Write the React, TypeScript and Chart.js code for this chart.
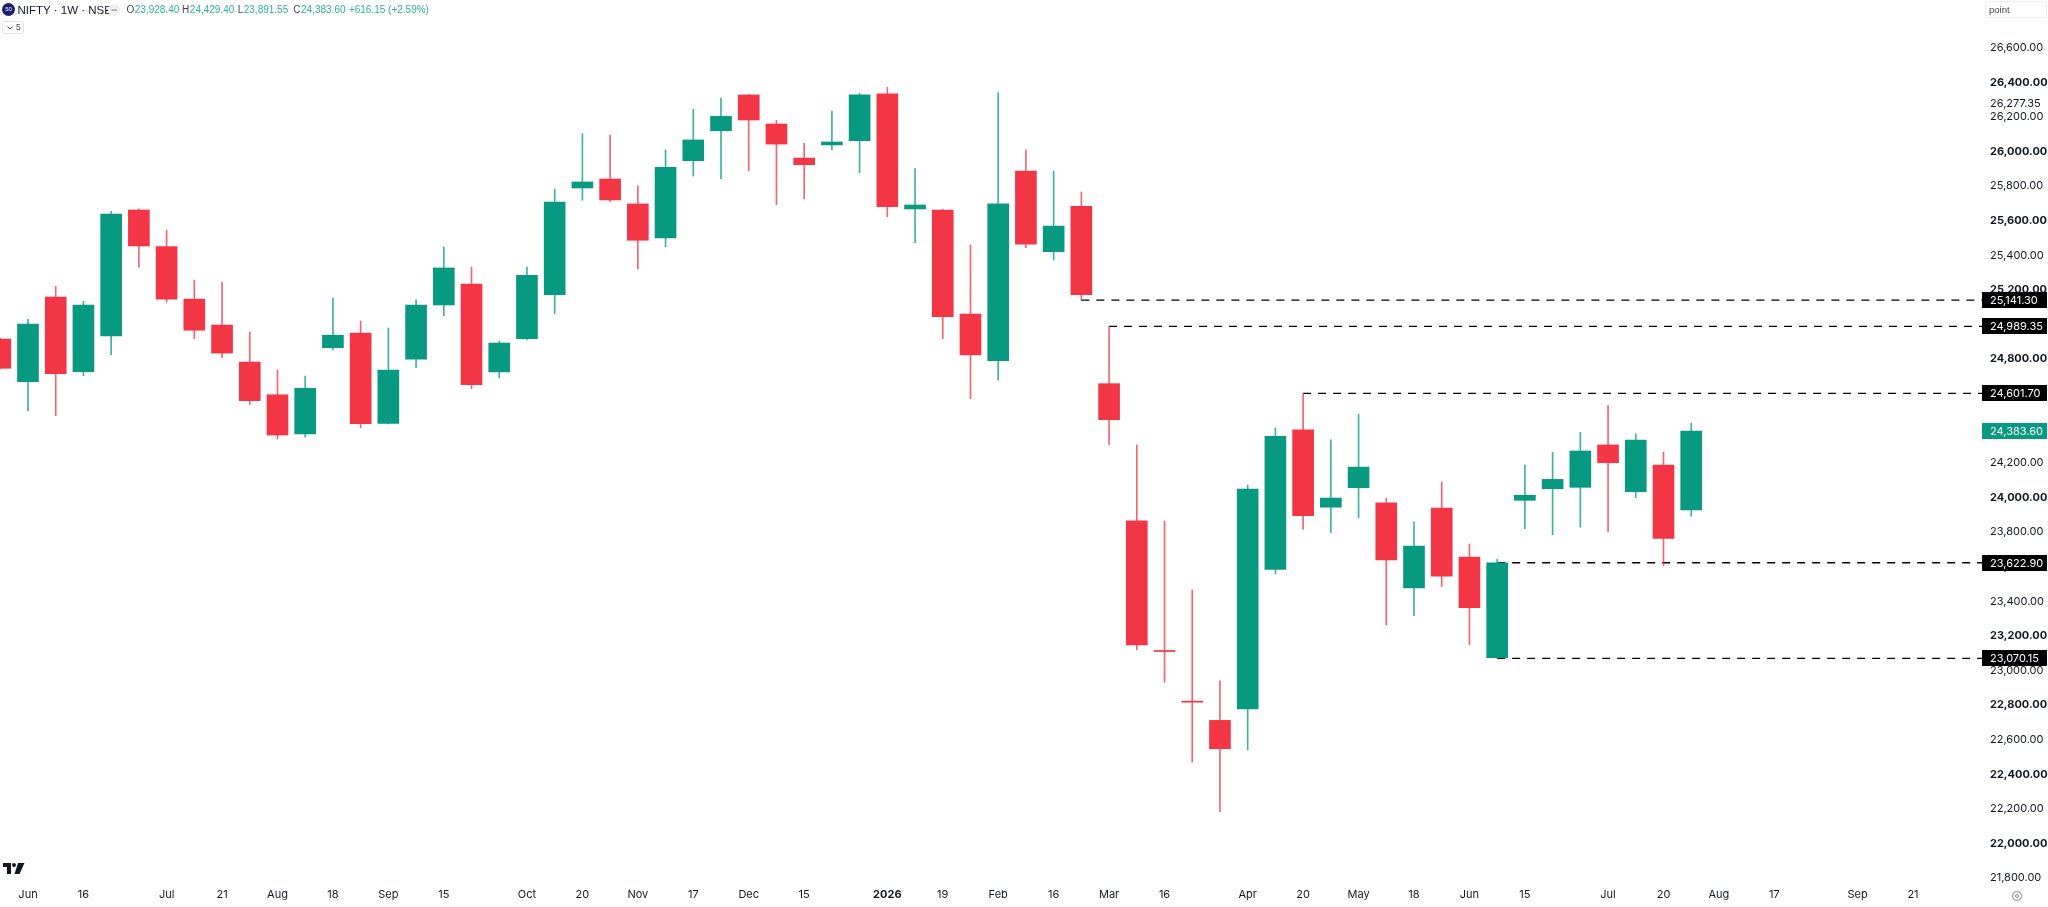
import React, { useEffect, useRef } from "react";
import { Chart, registerables } from "chart.js";

Chart.register(...registerables);

const opens = [24916,24670,25159,24727,24934,25662,25450,25147,24997,24783,24594,24367,24866,24951,24429,24799,25113,25234,24726,24918,25172,25789,25841,25697,25500,25947,26120,26327,26159,25962,26038,26062,26334,25668,25662,25061,24791,25887,25421,25683,24658,23866,23116,22823,22712,22778,23585,24392,23944,24057,23970,23477,23939,23656,23075,23984,24051,24059,24304,24034,24188,23928.4];
const highs = [24922,25030,25221,25134,25654,25669,25546,25257,25244,24957,24737,24702,25153,25020,24980,25142,25448,25332,24905,25332,25783,26103,26095,25801,26009,26244,26309,26330,26180,26047,26234,26336,26371,25902,25665,25460,26340,26009,25887,25766,24989.35,24304,23864,23466,22940,24072,24402,24601.7,24333,24481,23996,23859,24090,23731,23643,24188,24261,24377,24531,24367,24263,24429.4];
const lows = [24743,24502,24473,24704,24826,25332,25130,24918,24808,24537,24338,24350,24853,24404,24425,24750,25051,24629,24691,24911,25063,25718,25710,25321,25450,25858,25843,25889,25693,25727,26009,25878,25623,25473,24918,24571,24679,25444,25373,25141.3,24305,23120,22932,22471,22184,22541,23558,23816,23797,23883,23263,23317,23485,23149,23070.15,23820,23785,23828,23802,23999,23606,23891.55];
const closes = [24747,25002,24716,25113,25639,25454,25146,24967,24835,24560,24361,24631,24938,24427,24737,25113,25327,24652,24893,25284,25708,25824,25720,25487,25909,26067,26203,26182,26043,25924,26055,26327,25681,25691,25045,24824,25698,25465,25569,25172,24450,23148,23110,22817,22548,24049,24354,23895,23997,24176,23639,23720,23545,23363,23622.9,24013,24105,24269,24201,24332,23764,24383.6];

const timeTickIndex = [1,3,6,8,10,12,14,16,19,21,23,25,27,29,32,34,36,38,40,42,45,47,49,51,53,55,58,60,62,64,67,69];
const timeTickLabels = ["Jun","16","Jul","21","Aug","18","Sep","15","Oct","20","Nov","17","Dec","15","2026","19","Feb","16","Mar","16","Apr","20","May","18","Jun","15","Jul","20","Aug","17","Sep","21"];
const boldTimeLabels = ["2026"];

const priceTicks = [26600,26400,26277.35,26200,26000,25800,25600,25400,25200,25000,24800,24600,24400,24200,24000,23800,23600,23400,23200,23000,22800,22600,22400,22200,22000,21800];

const levelValues = [25141.3,24989.35,24601.7,23622.9,23070.15];
const levelStartIndex = [39,40,47,54,54];
const lastPrice = 24383.6;

const headerLabels = ["O","H","L","C"];
const headerValues = ["23,928.40","24,429.40","23,891.55","24,383.60"];
const headerChange = "+616.15 (+2.59%)";

const GREEN = "#089981";
const RED = "#F23645";
const GREEN_WICK = "#089981c4";
const RED_WICK = "#F23645c4";
const FONT = "Inter, 'Liberation Sans', sans-serif";
const HEADER_FONT = "'Liberation Sans', Arial, sans-serif";
const X_MIN = -0.01;
const X_MAX = 71.49;

const fmt = (v: number) =>
  v.toLocaleString("en-US", { minimumFractionDigits: 2, maximumFractionDigits: 2 });

const priceBoxes = {
  id: "priceBoxes",
  afterDraw(chart: any) {
    const { ctx, scales } = chart;
    const y = scales.y;
    const left = chart.chartArea.right;
    const draw = (v: number, bg: string) => {
      const py = y.getPixelForValue(v);
      ctx.save();
      ctx.fillStyle = bg;
      ctx.fillRect(left, Math.round(py) - 8, 65, 16);
      ctx.fillStyle = "#ffffff";
      ctx.font = `11px ${FONT}`;
      ctx.textAlign = "left";
      ctx.textBaseline = "middle";
      ctx.fillText(fmt(v), left + 8, Math.round(py) + 0.5);
      ctx.restore();
    };
    levelValues.forEach((v) => draw(v, "#000000"));
    draw(lastPrice, GREEN);
  },
};

export default function App() {
  const ref = useRef<HTMLCanvasElement | null>(null);
  useEffect(() => {
    document.body.style.margin = "0";
    document.body.style.background = "#ffffff";
    const candleColors = closes.map((c, i) => (c >= opens[i] ? GREEN : RED));
    const wickColors = closes.map((c, i) => (c >= opens[i] ? GREEN_WICK : RED_WICK));
    const chart = new Chart(ref.current as HTMLCanvasElement, {
      type: "bar",
      data: {
        datasets: [
          ...levelValues.map((v, k) => ({
            type: "line" as const,
            data: [
              { x: levelStartIndex[k], y: v },
              { x: X_MAX, y: v },
            ],
            borderColor: "#000000",
            borderWidth: 1.3,
            borderDash: [8, 7],
            pointRadius: 0,
            order: 3,
          })),
          {
            data: closes.map((_, i) => ({ x: i, y: [lows[i], highs[i]] })),
            backgroundColor: wickColors,
            barThickness: 1,
            grouped: false,
            order: 2,
          },
          {
            data: closes.map((c, i) => ({ x: i, y: [opens[i], c] })),
            backgroundColor: candleColors,
            barThickness: 21,
            grouped: false,
            order: 1,
          },
        ] as any,
      },
      plugins: [priceBoxes],
      options: {
        responsive: false,
        animation: false,
        maintainAspectRatio: false,
        layout: { padding: 0, autoPadding: false },
        plugins: { legend: { display: false }, title: { display: false }, tooltip: { enabled: false } },
        scales: {
          x: {
            type: "linear",
            offset: false,
            bounds: "data",
            min: X_MIN,
            max: X_MAX,
            grid: { display: false, offset: false },
            border: { display: false },
            afterBuildTicks(scale: any) {
              scale.ticks = timeTickIndex.map((value) => ({ value }));
            },
            afterFit(scale: any) {
              scale.height = 27;
            },
            ticks: {
              autoSkip: false,
              maxRotation: 0,
              minRotation: 0,
              padding: 0,
              color: "#131722",
              font: (c: any) => {
                const l = timeTickLabels[timeTickIndex.indexOf(c.tick?.value)];
                return { family: FONT, size: 11, weight: boldTimeLabels.includes(l) ? "bold" : "normal" };
              },
              callback: (v: any) => timeTickLabels[timeTickIndex.indexOf(v)] ?? "",
            },
          },
          y: {
            type: "linear",
            position: "right",
            offset: false,
            bounds: "data",
            min: 21789.3,
            max: 26875.7,
            grid: { display: false },
            border: { display: false },
            afterBuildTicks(scale: any) {
              scale.ticks = priceTicks.map((value) => ({ value }));
            },
            afterFit(scale: any) {
              scale.width = 66;
              scale.paddingTop = 0;
              scale.paddingBottom = 0;
            },
            ticks: {
              autoSkip: false,
              crossAlign: "near",
              padding: 0,
              color: "#131722",
              font: (c: any) => ({
                family: FONT,
                size: 11,
                weight: c.tick && c.tick.value % 400 === 0 ? "bold" : "normal",
              }),
              callback: (v: any) => fmt(Number(v)),
            },
          },
        },
      } as any,
    });
    return () => chart.destroy();
  }, []);

  const overlay: React.CSSProperties = { position: "absolute", fontFamily: HEADER_FONT, whiteSpace: "nowrap" };
  return (
    <div style={{ position: "relative", width: 2048, height: 907, overflow: "hidden", background: "#fff" }}>
      <canvas ref={ref} width={2048} height={907} style={{ display: "block" }} />
      <div style={{ ...overlay, left: 2, top: 3, width: 13, height: 13, borderRadius: 7, background: "#1c1c6e", color: "#fff", fontSize: 6, lineHeight: "13px", textAlign: "center" }}>50</div>
      <div style={{ ...overlay, left: 17.5, top: 2, fontSize: 11.5, lineHeight: "16px", color: "#131722" }}>NIFTY · 1W · NSE</div>
      <div style={{ ...overlay, left: 108, top: 4, width: 12, height: 12, borderRadius: 6, background: "#f0f0f0" }}>
        <div style={{ position: "absolute", left: 3, top: 5, width: 6, height: 2, background: "#b2b5be", borderRadius: 1 }} />
      </div>
      <div style={{ ...overlay, left: 126.5, top: 3, fontSize: 10, lineHeight: "14px", letterSpacing: 0, color: "#2bb39c" }}>
        {headerLabels.map((l, i) => (
          <span key={l} style={{ display: "inline-block", width: 55.6 }}>
            <span style={{ color: "#434651", marginRight: 0.5 }}>{l}</span>
            {headerValues[i]}
          </span>
        ))}
        <span>{headerChange}</span>
      </div>
      <div style={{ ...overlay, left: 2, top: 21, width: 22, height: 13, boxSizing: "border-box", border: "1px solid #e4e4e6", borderRadius: 2, fontSize: 8.5, lineHeight: "11px", color: "#434651", paddingLeft: 13 }}>
        5
        <svg width="6" height="4" style={{ position: "absolute", left: 4, top: 4 }}>
          <path d="M0.5 0.5 L3 3 L5.5 0.5" fill="none" stroke="#434651" strokeWidth="1" />
        </svg>
      </div>
      <div style={{ ...overlay, left: 1985, top: 1, width: 62, height: 17, boxSizing: "border-box", border: "1px solid #f0f0f3", borderRadius: 2, fontSize: 9.5, lineHeight: "15px", color: "#434651", paddingLeft: 3 }}>point</div>
      <svg style={{ position: "absolute", left: 3, top: 863 }} width="22" height="12" viewBox="0 0 22 12">
        <path d="M0 0 H8 V11 H4 V4 H0 Z" fill="#131722" />
        <circle cx="11" cy="2" r="2" fill="#131722" />
        <path d="M15 0 H21.5 L16.5 11 H11.5 Z" fill="#131722" />
      </svg>
      <svg style={{ position: "absolute", left: 2011, top: 890 }} width="12" height="12" viewBox="0 0 12 12">
        <path d="M3.5 1.8 H8.5 L11 6 L8.5 10.2 H3.5 L1 6 Z" fill="none" stroke="#6a6d78" strokeWidth="0.8" />
        <circle cx="6" cy="6" r="1.5" fill="none" stroke="#6a6d78" strokeWidth="0.8" />
      </svg>
    </div>
  );
}
